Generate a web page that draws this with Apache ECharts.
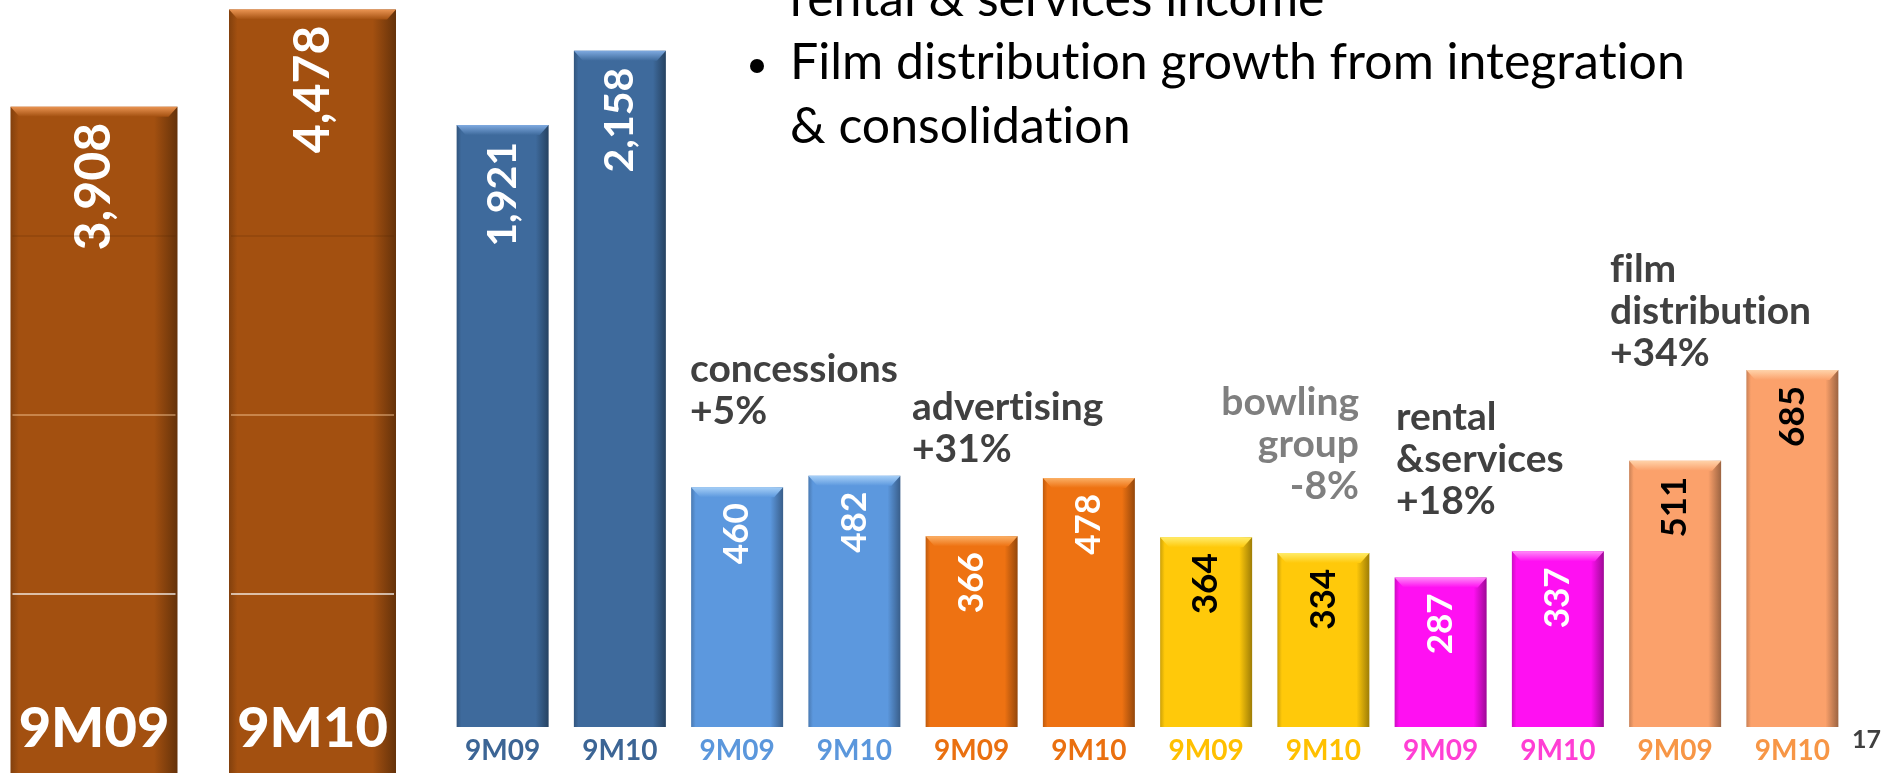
<!DOCTYPE html>
<html>
<head>
<meta charset="utf-8">
<style>
  html, body { margin: 0; padding: 0; background: #ffffff; }
  #chart { width: 1892px; height: 773px; }
</style>
<script src="https://cdn.jsdelivr.net/npm/echarts@6/dist/echarts.min.js"></script>
</head>
<body>
<div id="chart"></div>
<script>
// ---- data ----------------------------------------------------------------
const totalPeriods = ['9M09', '9M10'];
const totalRevenue = [3908, 4478];

const periodTicks = ['9M09', '9M10', '9M09', '9M10', '9M09', '9M10',
                     '9M09', '9M10', '9M09', '9M10', '9M09', '9M10'];
const leadSegmentRevenue = [1921, 2158];
const concessionsRevenue = [460, 482];
const advertisingRevenue = [366, 478];
const bowlingRevenue = [364, 334];
const rentalRevenue = [287, 337];
const filmDistributionRevenue = [511, 685];

const bulletLines = ['rental & services income', 'Film distribution growth from integration', '& consolidation'];
const noteConcessions = ['concessions', '+5%'];
const noteAdvertising = ['advertising', '+31%'];
const noteBowling = ['bowling', 'group', '-8%'];
const noteRental = ['rental', '&services', '+18%'];
const noteFilm = ['film', 'distribution', '+34%'];
const pageNumber = '17';

// thin guide lines that show across the total-revenue bars
const guideValues = [1050, 2100, 3150];

// ---- styles --------------------------------------------------------------
const FONT = 'Lato, "Open Sans", sans-serif';
const totalStyle = { bar: '#A35010', bevel: '#EA9452', text: '#FFFFFF' };
const guideColors = ['rgba(255,255,255,0.85)', 'rgba(255,210,160,0.55)', 'rgba(80,35,0,0.22)'];
const pairStyles = [
  { bar: '#3E6A9C', bevel: '#7FAAE0', tick: '#3C6595', text: '#FFFFFF' },
  { bar: '#5C98DE', bevel: '#A6CFF7', tick: '#5B97DC', text: '#FFFFFF' },
  { bar: '#EE7212', bevel: '#FBB066', tick: '#EA7010', text: '#FFFFFF' },
  { bar: '#FFC90A', bevel: '#FFEC6A', tick: '#FFC000', text: '#000000' },
  { bar: '#FF10F2', bevel: '#FF8AF8', tick: '#FF3FD4', text: '#FFFFFF' },
  { bar: '#FBA16B', bevel: '#FFD3AA', tick: '#F79646', text: '#000000' }
];

function shade(hex, f) {
  const n = parseInt(hex.slice(1), 16);
  const r = Math.round(((n >> 16) & 255) * f);
  const g = Math.round(((n >> 8) & 255) * f);
  const b = Math.round((n & 255) * f);
  return 'rgb(' + r + ',' + g + ',' + b + ')';
}
function barFill(hex) {
  return {
    type: 'linear', x: 0, y: 0, x2: 1, y2: 0,
    colorStops: [
      { offset: 0, color: shade(hex, 0.8) },
      { offset: 0.05, color: hex },
      { offset: 0.86, color: hex },
      { offset: 1, color: shade(hex, 0.62) }
    ]
  };
}
// lighter bevelled cap on top of each bar
function bevelRenderer(barW, styles) {
  return function (params, api) {
    const p = api.coord([api.value(0), api.value(1)]);
    const s = styles[api.value(2)];
    const half = barW / 2, h = 10, inset = 9;
    return {
      type: 'polygon',
      shape: { points: [[p[0] - half, p[1]], [p[0] + half, p[1]],
                        [p[0] + half - inset, p[1] + h], [p[0] - half + inset, p[1] + h]] },
      style: { fill: { type: 'linear', x: 0, y: 0, x2: 0, y2: 1,
        colorStops: [{ offset: 0, color: s.bevel }, { offset: 1, color: s.bar }] } }
    };
  };
}
// guide lines drawn only across the body of each bar
function guideRenderer(barW) {
  return function (params, api) {
    const i = api.value(0), v = api.value(1), half = barW / 2;
    const children = [];
    guideValues.forEach((g, k) => {
      if (g >= v) return;
      const p = api.coord([i, g]);
      children.push({ type: 'line',
        shape: { x1: p[0] - half + 2, y1: p[1], x2: p[0] + half - 2, y2: p[1] },
        style: { stroke: guideColors[k], lineWidth: 1.5 } });
    });
    return { type: 'group', children: children };
  };
}

// ---- series data ---------------------------------------------------------
const totalData = totalRevenue.map(v => ({ value: v, itemStyle: { color: barFill(totalStyle.bar) } }));
const totalMarks = totalRevenue.map((v, i) => [i, v, 0]);

const leadData = leadSegmentRevenue.map(v => ({
  value: v, itemStyle: { color: barFill(pairStyles[0].bar) }, label: { color: pairStyles[0].text }
}));
while (leadData.length < periodTicks.length) leadData.push('-');
const leadBevel = leadSegmentRevenue.map((v, i) => [i, v, 0]);

const segmentGroups = [concessionsRevenue, advertisingRevenue, bowlingRevenue, rentalRevenue, filmDistributionRevenue];
const segmentData = ['-', '-'];
const segmentBevel = [];
segmentGroups.forEach((group, gi) => {
  const st = pairStyles[gi + 1];
  group.forEach(v => {
    segmentBevel.push([segmentData.length, v, gi + 1]);
    segmentData.push({ value: v, itemStyle: { color: barFill(st.bar) }, label: { color: st.text } });
  });
});
const tickColors = periodTicks.map((t, i) => pairStyles[Math.floor(i / 2)].tick);

// ---- text helpers --------------------------------------------------------
// keep letter pairs such as "ti" / "fi" as separate glyphs (no ligatures)
function noLigatures(s) {
  return s.replace(/t(?=i)/g, 't\u200C').replace(/f(?=[il])/g, 'f\u200C');
}
function textLine(text, x, baseline, size, weight, color, align) {
  return {
    type: 'text', silent: true, z: 20,
    style: {
      x: x, y: baseline - 0.387 * size, text: noLigatures(text),
      fontFamily: FONT, fontSize: size, fontWeight: weight,
      fill: color, align: align || 'left', verticalAlign: 'middle'
    }
  };
}
function noteBlock(lines, x, firstBaseline, color, align) {
  return lines.map((t, i) => textLine(t, x, firstBaseline + i * 42, 39, 'bold', color, align));
}

const graphics = [].concat(
  [{ type: 'circle', silent: true, shape: { cx: 757, cy: 66, r: 7 }, style: { fill: '#000' } }],
  bulletLines.map((t, i) => textLine(t, 790, 19 + i * 63.5, 50, 'normal', '#000000')),
  noteBlock(noteConcessions, 690, 385, '#404040'),
  noteBlock(noteAdvertising, 912, 423, '#404040'),
  noteBlock(noteBowling, 1359, 418, '#7F7F7F', 'right'),
  noteBlock(noteRental, 1396, 433, '#404040'),
  noteBlock(noteFilm, 1610, 285, '#404040'),
  [textLine(pageNumber, 1852, 750, 25, 'bold', '#404040')]
);

// ---- chart ---------------------------------------------------------------
const chart = echarts.init(document.getElementById('chart'));
chart.setOption({
  animation: false,
  backgroundColor: '#ffffff',
  grid: [
    { left: 94, top: 0, width: 218.5, height: 773 },
    { left: 444, top: 0, width: 1407, height: 727 }
  ],
  xAxis: [
    {
      type: 'category', gridIndex: 0, data: totalPeriods, boundaryGap: false, z: 10,
      axisLine: { show: false }, axisTick: { show: false }, splitLine: { show: false },
      axisLabel: { inside: true, margin: 44, verticalAlign: 'middle', color: '#FFFFFF',
                   fontFamily: FONT, fontWeight: 900, fontSize: 56 }
    },
    {
      type: 'category', gridIndex: 1, data: periodTicks,
      axisLine: { show: false }, axisTick: { show: false }, splitLine: { show: false },
      axisLabel: { margin: 24, verticalAlign: 'middle', fontFamily: FONT, fontWeight: 'bold', fontSize: 28,
                   color: (value, index) => tickColors[index] }
    }
  ],
  yAxis: [
    { type: 'value', gridIndex: 0, min: 0, max: 4534, show: false },
    { type: 'value', gridIndex: 1, min: 0, max: 2320, show: false },
    { type: 'value', gridIndex: 1, min: 0, max: 1395, show: false }
  ],
  series: [
    {
      type: 'bar', xAxisIndex: 0, yAxisIndex: 0, barWidth: 167, clip: false, data: totalData,
      label: { show: true, position: 'insideTop', rotate: 90, align: 'right', verticalAlign: 'middle',
               distance: 16, color: totalStyle.text, fontFamily: FONT, fontWeight: 'bold', fontSize: 50,
               formatter: p => p.value.toLocaleString('en-US') }
    },
    { type: 'custom', xAxisIndex: 0, yAxisIndex: 0, silent: true, z: 3, clip: false,
      renderItem: bevelRenderer(167, [totalStyle]), data: totalMarks },
    { type: 'custom', xAxisIndex: 0, yAxisIndex: 0, silent: true, z: 4, clip: false,
      renderItem: guideRenderer(167), data: totalMarks },
    {
      type: 'bar', xAxisIndex: 1, yAxisIndex: 1, barWidth: 92, barGap: '-100%', data: leadData,
      label: { show: true, position: 'insideTop', rotate: 90, align: 'right', verticalAlign: 'middle',
               distance: 17, fontFamily: FONT, fontWeight: 'bold', fontSize: 41,
               formatter: p => p.value.toLocaleString('en-US') }
    },
    {
      type: 'bar', xAxisIndex: 1, yAxisIndex: 2, barWidth: 92, barGap: '-100%', data: segmentData,
      label: { show: true, position: 'insideTop', rotate: 90, align: 'right', verticalAlign: 'middle',
               distance: 16, fontFamily: FONT, fontWeight: 'bold', fontSize: 35 }
    },
    { type: 'custom', xAxisIndex: 1, yAxisIndex: 1, silent: true, z: 3,
      renderItem: bevelRenderer(92, pairStyles), data: leadBevel },
    { type: 'custom', xAxisIndex: 1, yAxisIndex: 2, silent: true, z: 3,
      renderItem: bevelRenderer(92, pairStyles), data: segmentBevel }
  ],
  graphic: graphics
});
</script>
</body>
</html>
